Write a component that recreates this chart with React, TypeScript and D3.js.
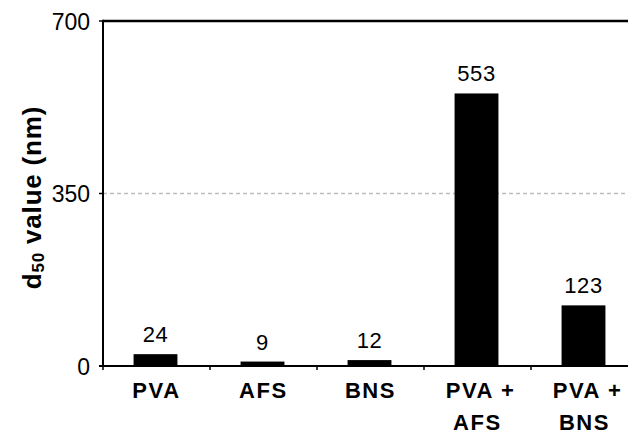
import React, { useEffect, useRef } from 'react';
import * as d3 from 'd3';

const categories = ['PVA', 'AFS', 'BNS', 'PVA +|AFS', 'PVA +|BNS'];
const values = [24, 9, 12, 553, 123];
const yTicks = [0, 350, 700];

const App = () => {
  const ref = useRef<SVGSVGElement>(null);

  useEffect(() => {
    if (!ref.current) return;
    const width = 628;
    const left = 103;
    const top = 21;
    const bottom = 366;
    const font = 'Liberation Sans, Arial, sans-serif';

    const svg = d3.select(ref.current);
    svg.selectAll('*').remove();

    const x = d3.scaleBand<string>()
      .domain(categories)
      .range([left, left + 107 * categories.length])
      .padding(0);

    const y = d3.scaleLinear().domain([0, 700]).range([bottom, top]);

    // dashed gridline at 350
    svg.append('line')
      .attr('x1', left).attr('x2', width)
      .attr('y1', y(350)).attr('y2', y(350))
      .attr('stroke', '#bdbdbd')
      .attr('stroke-width', 1.3)
      .attr('stroke-dasharray', '4,3');

    // bars
    const barW = x.bandwidth() * 0.41;
    svg.append('g')
      .selectAll('rect')
      .data(values)
      .join('rect')
      .attr('x', (_d, i) => x(categories[i])! + (x.bandwidth() - barW) / 2 - 1)
      .attr('y', d => y(d))
      .attr('width', barW)
      .attr('height', d => bottom - y(d))
      .attr('fill', '#000');

    // value labels
    svg.append('g')
      .selectAll('text')
      .data(values)
      .join('text')
      .attr('x', (_d, i) => x(categories[i])! + x.bandwidth() / 2 - 1)
      .attr('y', d => y(d) - 12)
      .attr('text-anchor', 'middle')
      .attr('font-family', font)
      .attr('font-size', 22)
      .attr('letter-spacing', 0.6)
      .text(d => d);

    // axes lines
    svg.append('line')
      .attr('x1', left).attr('x2', width)
      .attr('y1', top).attr('y2', top)
      .attr('stroke', '#000').attr('stroke-width', 2.6);
    svg.append('line')
      .attr('x1', left).attr('x2', left)
      .attr('y1', top - 1.3).attr('y2', bottom + 1)
      .attr('stroke', '#000').attr('stroke-width', 2);
    svg.append('line')
      .attr('x1', left - 4).attr('x2', width)
      .attr('y1', bottom).attr('y2', bottom)
      .attr('stroke', '#000').attr('stroke-width', 2);

    // x ticks at band boundaries
    svg.append('g')
      .selectAll('line')
      .data(categories)
      .join('line')
      .attr('x1', d => x(d)!).attr('x2', d => x(d)!)
      .attr('y1', bottom).attr('y2', bottom + 4)
      .attr('stroke', '#000').attr('stroke-width', 1.5);

    // x labels
    const xl = svg.append('g')
      .selectAll('text')
      .data(categories)
      .join('text')
      .attr('text-anchor', 'middle')
      .attr('font-family', font)
      .attr('font-weight', 'bold')
      .attr('font-size', 22)
      .attr('letter-spacing', 1.6);
    xl.each(function (d) {
      const t = d3.select(this);
      d.split('|').forEach((line, j) => {
        t.append('tspan')
          .attr('x', x(d)! + x.bandwidth() / 2 + (j === 0 && d.includes('|') ? 3 : 0))
          .attr('y', 398 + j * 32)
          .text(line);
      });
    });

    // y ticks and labels
    svg.append('g')
      .selectAll('line')
      .data(yTicks)
      .join('line')
      .attr('x1', left - 4).attr('x2', left)
      .attr('y1', d => y(d)).attr('y2', d => y(d))
      .attr('stroke', '#000').attr('stroke-width', 1.5);
    svg.append('g')
      .selectAll('text')
      .data(yTicks)
      .join('text')
      .attr('x', 90)
      .attr('y', d => y(d) + 8.5)
      .attr('text-anchor', 'end')
      .attr('font-family', font)
      .attr('font-size', 23)
      .text(d => d);

    // y title
    const title = svg.append('text')
      .attr('transform', `translate(41,${(top + bottom) / 2 + 4}) rotate(-90)`)
      .attr('text-anchor', 'middle')
      .attr('font-family', font)
      .attr('font-weight', 'bold')
      .attr('font-size', 26)
      .attr('letter-spacing', 0.8);
    title.append('tspan').text('d');
    title.append('tspan').attr('font-size', 17).attr('dy', 3).text('50');
    title.append('tspan').attr('dy', -3).text(' value (nm)');
  }, []);

  return (
    <svg
      ref={ref}
      width={628}
      height={435}
      style={{ position: 'absolute', left: 0, top: 0, background: '#fff' }}
    />
  );
};

export default App;
